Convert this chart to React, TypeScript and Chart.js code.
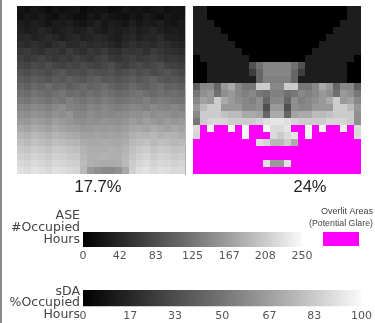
import React, { useEffect, useRef } from "react";
import { Chart, registerables } from "chart.js";

Chart.register(...registerables);

// ---------- data ----------
const columns = ["1","2","3","4","5","6","7","8","9","10","11","12","13","14","15","16","17","18","19","20","21","22","23","24"];

// left grid: sDA (% of occupied hours), rows top -> bottom
const sdaCells: number[][] = [
  [8,6,9,7,5,8,6,7,9,4,6,8,7,5,6,9,7,8,6,7,9,6,8,7],
  [7,9,8,10,7,6,9,8,6,5,9,7,10,8,7,6,9,7,10,8,6,9,7,8],
  [11,9,12,10,8,11,10,12,9,8,10,13,9,11,10,8,12,9,11,10,12,9,8,10],
  [13,11,12,15,13,10,12,14,11,12,15,12,10,13,11,12,14,11,13,15,12,10,11,10],
  [15,16,13,14,17,15,12,14,16,13,14,16,15,12,11,14,16,13,15,14,17,13,12,11],
  [18,16,19,17,15,18,20,16,17,19,16,18,17,15,13,16,19,17,18,16,19,17,15,14],
  [21,23,20,18,22,21,19,23,20,18,22,20,23,19,18,21,20,22,19,23,21,19,18,17],
  [25,22,24,26,23,21,24,22,25,23,21,24,26,22,21,23,25,22,24,26,23,21,22,20],
  [28,26,29,27,30,27,25,28,26,29,27,25,28,30,26,24,27,29,26,28,30,26,25,24],
  [32,30,33,31,29,32,34,30,31,29,33,31,30,32,29,31,33,30,32,29,31,33,30,28],
  [36,34,37,35,33,36,34,37,35,33,36,38,34,35,33,35,37,34,36,38,35,33,34,32],
  [40,38,41,39,42,38,40,37,39,41,38,40,42,39,37,38,41,39,37,40,42,38,39,37],
  [44,42,45,43,41,44,46,42,43,41,44,42,45,43,41,42,44,46,43,41,44,42,43,41],
  [48,46,49,47,45,48,46,50,47,45,48,46,49,47,45,46,48,47,50,46,48,47,45,45],
  [53,51,54,52,50,53,55,51,50,49,52,50,53,51,49,51,53,52,50,54,52,51,53,50],
  [57,55,58,56,54,57,55,58,53,52,55,53,54,53,54,55,57,56,58,55,57,56,54,55],
  [61,59,62,60,58,62,60,58,56,55,57,56,58,57,56,58,61,59,62,60,58,61,59,60],
  [66,64,67,65,63,66,64,62,61,59,60,61,60,61,60,62,65,66,64,67,65,63,66,64],
  [71,69,72,70,68,71,69,67,66,63,63,64,63,64,63,65,69,71,70,72,69,71,70,68],
  [75,73,76,74,72,75,74,72,71,67,66,66,67,66,66,68,72,74,76,73,75,74,72,73],
  [79,77,80,78,76,79,78,76,75,70,68,68,68,69,68,70,75,78,80,77,79,78,76,77],
  [82,80,83,81,79,82,81,79,78,72,69,69,70,69,69,72,77,81,83,80,82,81,79,80],
  [85,83,86,84,82,85,84,82,81,73,69,68,67,67,68,73,80,84,86,83,85,84,82,83],
  [88,86,89,87,85,88,87,85,83,72,60,56,54,54,57,66,81,87,89,86,88,87,85,86],
];

// right grid: ASE (# occupied hours), values above 250 are overlit
const aseCells: number[][] = [
  [28,28,0,0,0,0,0,0,0,0,0,0,0,0,0,0,0,0,0,0,0,0,28,28],
  [28,28,0,0,0,0,0,0,0,0,0,0,0,0,0,0,0,0,0,0,0,0,28,28],
  [28,28,28,0,0,0,0,0,0,0,0,0,0,0,0,0,0,0,0,0,0,28,28,28],
  [28,28,28,28,0,0,0,0,0,0,0,0,0,0,0,0,0,0,0,0,28,28,28,28],
  [28,28,28,28,28,0,0,0,0,0,0,0,0,0,0,0,0,0,0,28,28,28,28,28],
  [28,28,28,28,28,28,0,0,0,0,0,0,0,0,0,0,0,0,28,28,28,28,28,28],
  [28,28,28,28,28,28,28,0,0,0,0,0,0,0,0,0,0,28,28,28,28,28,28,28],
  [0,28,28,28,28,28,28,28,0,0,0,0,0,0,0,0,28,28,28,28,28,28,28,0],
  [0,0,28,28,28,28,28,28,78,110,130,130,130,130,110,78,28,28,28,28,28,28,0,0],
  [0,0,28,28,28,28,28,28,60,100,130,130,130,130,100,60,28,28,28,28,28,28,0,0],
  [0,0,28,28,28,28,28,28,28,100,125,125,125,125,100,28,28,28,28,28,28,28,0,0],
  [94,133,133,100,150,167,133,117,117,200,200,133,133,200,200,117,117,133,167,150,100,133,133,94],
  [117,140,150,110,140,150,133,125,133,117,110,125,125,110,117,133,125,133,150,140,110,150,140,117],
  [133,160,150,200,167,150,140,133,125,140,100,133,133,100,140,125,133,140,150,167,200,150,160,133],
  [150,183,200,200,150,150,150,133,133,140,78,150,150,78,140,133,133,150,150,150,200,200,183,150],
  [133,200,200,200,190,183,183,167,167,160,100,167,167,100,160,167,167,183,183,190,200,200,200,140],
  [117,200,210,210,210,200,200,200,200,210,220,225,225,220,210,200,200,200,200,210,210,210,200,140],
  [215,300,235,300,300,240,300,240,300,300,240,215,215,225,300,300,240,300,240,300,300,235,300,215],
  [210,300,300,300,300,300,300,240,300,300,300,215,200,215,225,300,240,300,300,300,300,300,300,215],
  [300,300,300,300,300,300,300,300,300,220,210,180,180,200,170,300,300,300,300,300,300,300,300,300],
  [300,300,300,300,300,300,300,300,300,300,300,300,300,300,300,300,300,300,300,300,300,300,300,300],
  [300,300,300,300,300,300,300,300,300,300,300,300,300,300,300,300,300,300,300,300,300,300,300,300],
  [300,300,300,300,300,300,300,300,300,300,220,150,150,220,300,300,300,300,300,300,300,300,300,300],
  [300,300,300,300,300,300,300,300,300,300,300,300,300,300,300,300,300,300,300,300,300,300,300,300],
];

const sdaScore = "17.7%";
const aseScore = "24%";
const aseMax = 250;
const sdaMax = 100;
const aseTicks = [0, 42, 83, 125, 167, 208, 250];
const sdaTicks = [0, 17, 33, 50, 67, 83, 100];
const aseLabel = ["ASE", "#Occupied", "Hours"];
const sdaLabel = ["sDA", "%Occupied", "Hours"];
const overlitLabel = ["Overlit Areas", "(Potential Glare)"];
const overlitCategory = ["Overlit"];
const overlitValue = [1];

// ---------- helpers ----------
const OVERLIT = "#ff00ff";
const gray = (t: number) => {
  const g = Math.round(Math.max(0, Math.min(1, t)) * 255);
  return `rgb(${g},${g},${g})`;
};
const sdaColor = (v: number) => gray(v / sdaMax);
const aseColor = (v: number) => (v > aseMax ? OVERLIT : gray(v / aseMax));

function spacerAxis(position: string, width: number, borderColor: string | null) {
  return {
    type: "linear",
    axis: "y",
    position,
    display: width > 0,
    ticks: { display: false },
    grid: { display: false, drawTicks: false },
    border: { display: !!borderColor, color: borderColor || "transparent", width: 1 },
    afterFit: (s: any) => {
      s.width = width;
      s.paddingTop = 0;
      s.paddingBottom = 0;
    },
  };
}

function heatmapConfig(
  rows: number[][],
  colorFn: (v: number) => string,
  score: string,
  leftSpace: number,
  rightSpace: number,
  borderColor: string | null
): any {
  const n = rows.length;
  const datasets = rows
    .slice()
    .reverse()
    .map((row, i) => ({
      label: `row ${n - i}`,
      data: row.map(() => 1),
      backgroundColor: row.map(colorFn),
    }));
  return {
    type: "bar",
    data: { labels: columns, datasets },
    options: {
      animation: false,
      responsive: false,
      events: [],
      layout: { padding: 0 },
      datasets: {
        bar: { categoryPercentage: 1, barPercentage: 1, borderWidth: 0, inflateAmount: 0 },
      },
      plugins: {
        legend: { display: false },
        tooltip: { enabled: false },
        title: {
          display: true,
          position: "bottom",
          text: score,
          color: "#222",
          font: { family: "Liberation Sans", size: 16.5, weight: "normal", lineHeight: "20px" },
          padding: { top: 3, bottom: 0 },
        },
      },
      scales: {
        x: { stacked: true, display: false },
        y: { stacked: true, display: false, min: 0, max: n },
        padL: spacerAxis("left", leftSpace, null),
        padR: spacerAxis("right", rightSpace, borderColor),
      },
    },
  };
}

function barGradient(chart: any, max: number) {
  if (!chart.chartArea) return "#777";
  const xs = chart.scales.x;
  const g = chart.ctx.createLinearGradient(xs.getPixelForValue(0), 0, xs.getPixelForValue(max), 0);
  g.addColorStop(0, "#000000");
  g.addColorStop(0.5, "#747474");
  g.addColorStop(0.75, "#b4b4b4");
  g.addColorStop(1, "#fafafa");
  return g;
}

function colorbarConfig(
  label: string[],
  max: number,
  ticks: number[],
  labelOffset: number,
  lineHeight: number,
  padTop: number,
  padRight: number
): any {
  return {
    type: "bar",
    data: {
      labels: [label],
      datasets: [{ data: [max], backgroundColor: (ctx: any) => barGradient(ctx.chart, max) }],
    },
    options: {
      indexAxis: "y",
      animation: false,
      responsive: false,
      events: [],
      layout: { padding: { top: padTop, right: padRight, left: 0, bottom: 0 } },
      datasets: {
        bar: { categoryPercentage: 1, barPercentage: 1, borderWidth: 0, inflateAmount: 0 },
      },
      plugins: { legend: { display: false }, tooltip: { enabled: false } },
      scales: {
        x: {
          type: "linear",
          min: 0,
          max,
          grid: { display: false, drawTicks: false },
          border: { display: false },
          afterBuildTicks: (s: any) => {
            s.ticks = ticks.map((v) => ({ value: v }));
          },
          ticks: {
            padding: 3,
            color: "#555",
            maxRotation: 0,
            autoSkip: false,
            font: { family: "DejaVu Sans", size: 11, lineHeight: "13px" },
          },
        },
        y: {
          grid: { display: false, drawTicks: false },
          border: { display: false },
          afterFit: (s: any) => {
            s.width = 83;
            s.paddingTop = 0;
            s.paddingBottom = 0;
          },
          ticks: {
            padding: 3,
            labelOffset,
            color: "#444",
            font: { family: "DejaVu Sans", size: 12.5, lineHeight: `${lineHeight}px` },
          },
        },
      },
    },
  };
}

function overlitConfig(): any {
  return {
    type: "bar",
    data: {
      labels: overlitCategory,
      datasets: [{ label: overlitLabel.join(" "), data: overlitValue, backgroundColor: OVERLIT }],
    },
    options: {
      animation: false,
      responsive: false,
      events: [],
      layout: { padding: { left: 9, right: 2, top: 0, bottom: 0 } },
      datasets: { bar: { categoryPercentage: 1, barPercentage: 0.5625, borderWidth: 0 } },
      plugins: {
        legend: { display: false },
        tooltip: { enabled: false },
        title: {
          display: true,
          text: overlitLabel,
          position: "top",
          align: "end",
          color: "#444",
          font: { family: "Liberation Sans", size: 9, weight: "normal", lineHeight: "12.5px" },
          padding: { top: 5, bottom: 2 },
        },
      },
      scales: {
        x: { display: false },
        y: { display: false, min: 0, max: 1 },
      },
    },
  };
}

const makeSdaMap = () => heatmapConfig(sdaCells, sdaColor, sdaScore, 8, 2, "#b4b4b4");
const makeAseMap = () => heatmapConfig(aseCells, aseColor, aseScore, 0, 66, null);
const makeAseBar = () => colorbarConfig(aseLabel, aseMax, aseTicks, -12, 12, 32, 73);
const makeSdaBar = () => colorbarConfig(sdaLabel, sdaMax, sdaTicks, 4.5, 11.5, 20, 13);

function ChartCanvas(props: { make: () => any; left: number; top: number; width: number; height: number }) {
  const { make, left, top, width, height } = props;
  const ref = useRef<HTMLCanvasElement | null>(null);
  useEffect(() => {
    if (!ref.current) return;
    const chart = new Chart(ref.current, make());
    return () => chart.destroy();
  }, [make]);
  return (
    <canvas
      ref={ref}
      width={width}
      height={height}
      style={{ position: "absolute", left, top, width, height }}
    />
  );
}

export default function App() {
  return (
    <div
      style={{
        position: "absolute",
        left: 0,
        top: 0,
        width: 375,
        height: 323,
        overflow: "hidden",
        background: "#ffffff",
      }}
    >
      <div style={{ position: "absolute", left: 0, top: 0, width: 2, height: 323, background: "#8c8c8c" }} />
      <ChartCanvas make={makeSdaMap} left={9} top={6} width={178} height={191} />
      <ChartCanvas make={makeAseMap} left={193} top={6} width={234} height={191} />
      <ChartCanvas make={makeAseBar} left={0} top={200} width={375} height={62} />
      <ChartCanvas make={overlitConfig} left={300} top={200} width={75} height={46} />
      <ChartCanvas make={makeSdaBar} left={0} top={270} width={375} height={53} />
    </div>
  );
}
